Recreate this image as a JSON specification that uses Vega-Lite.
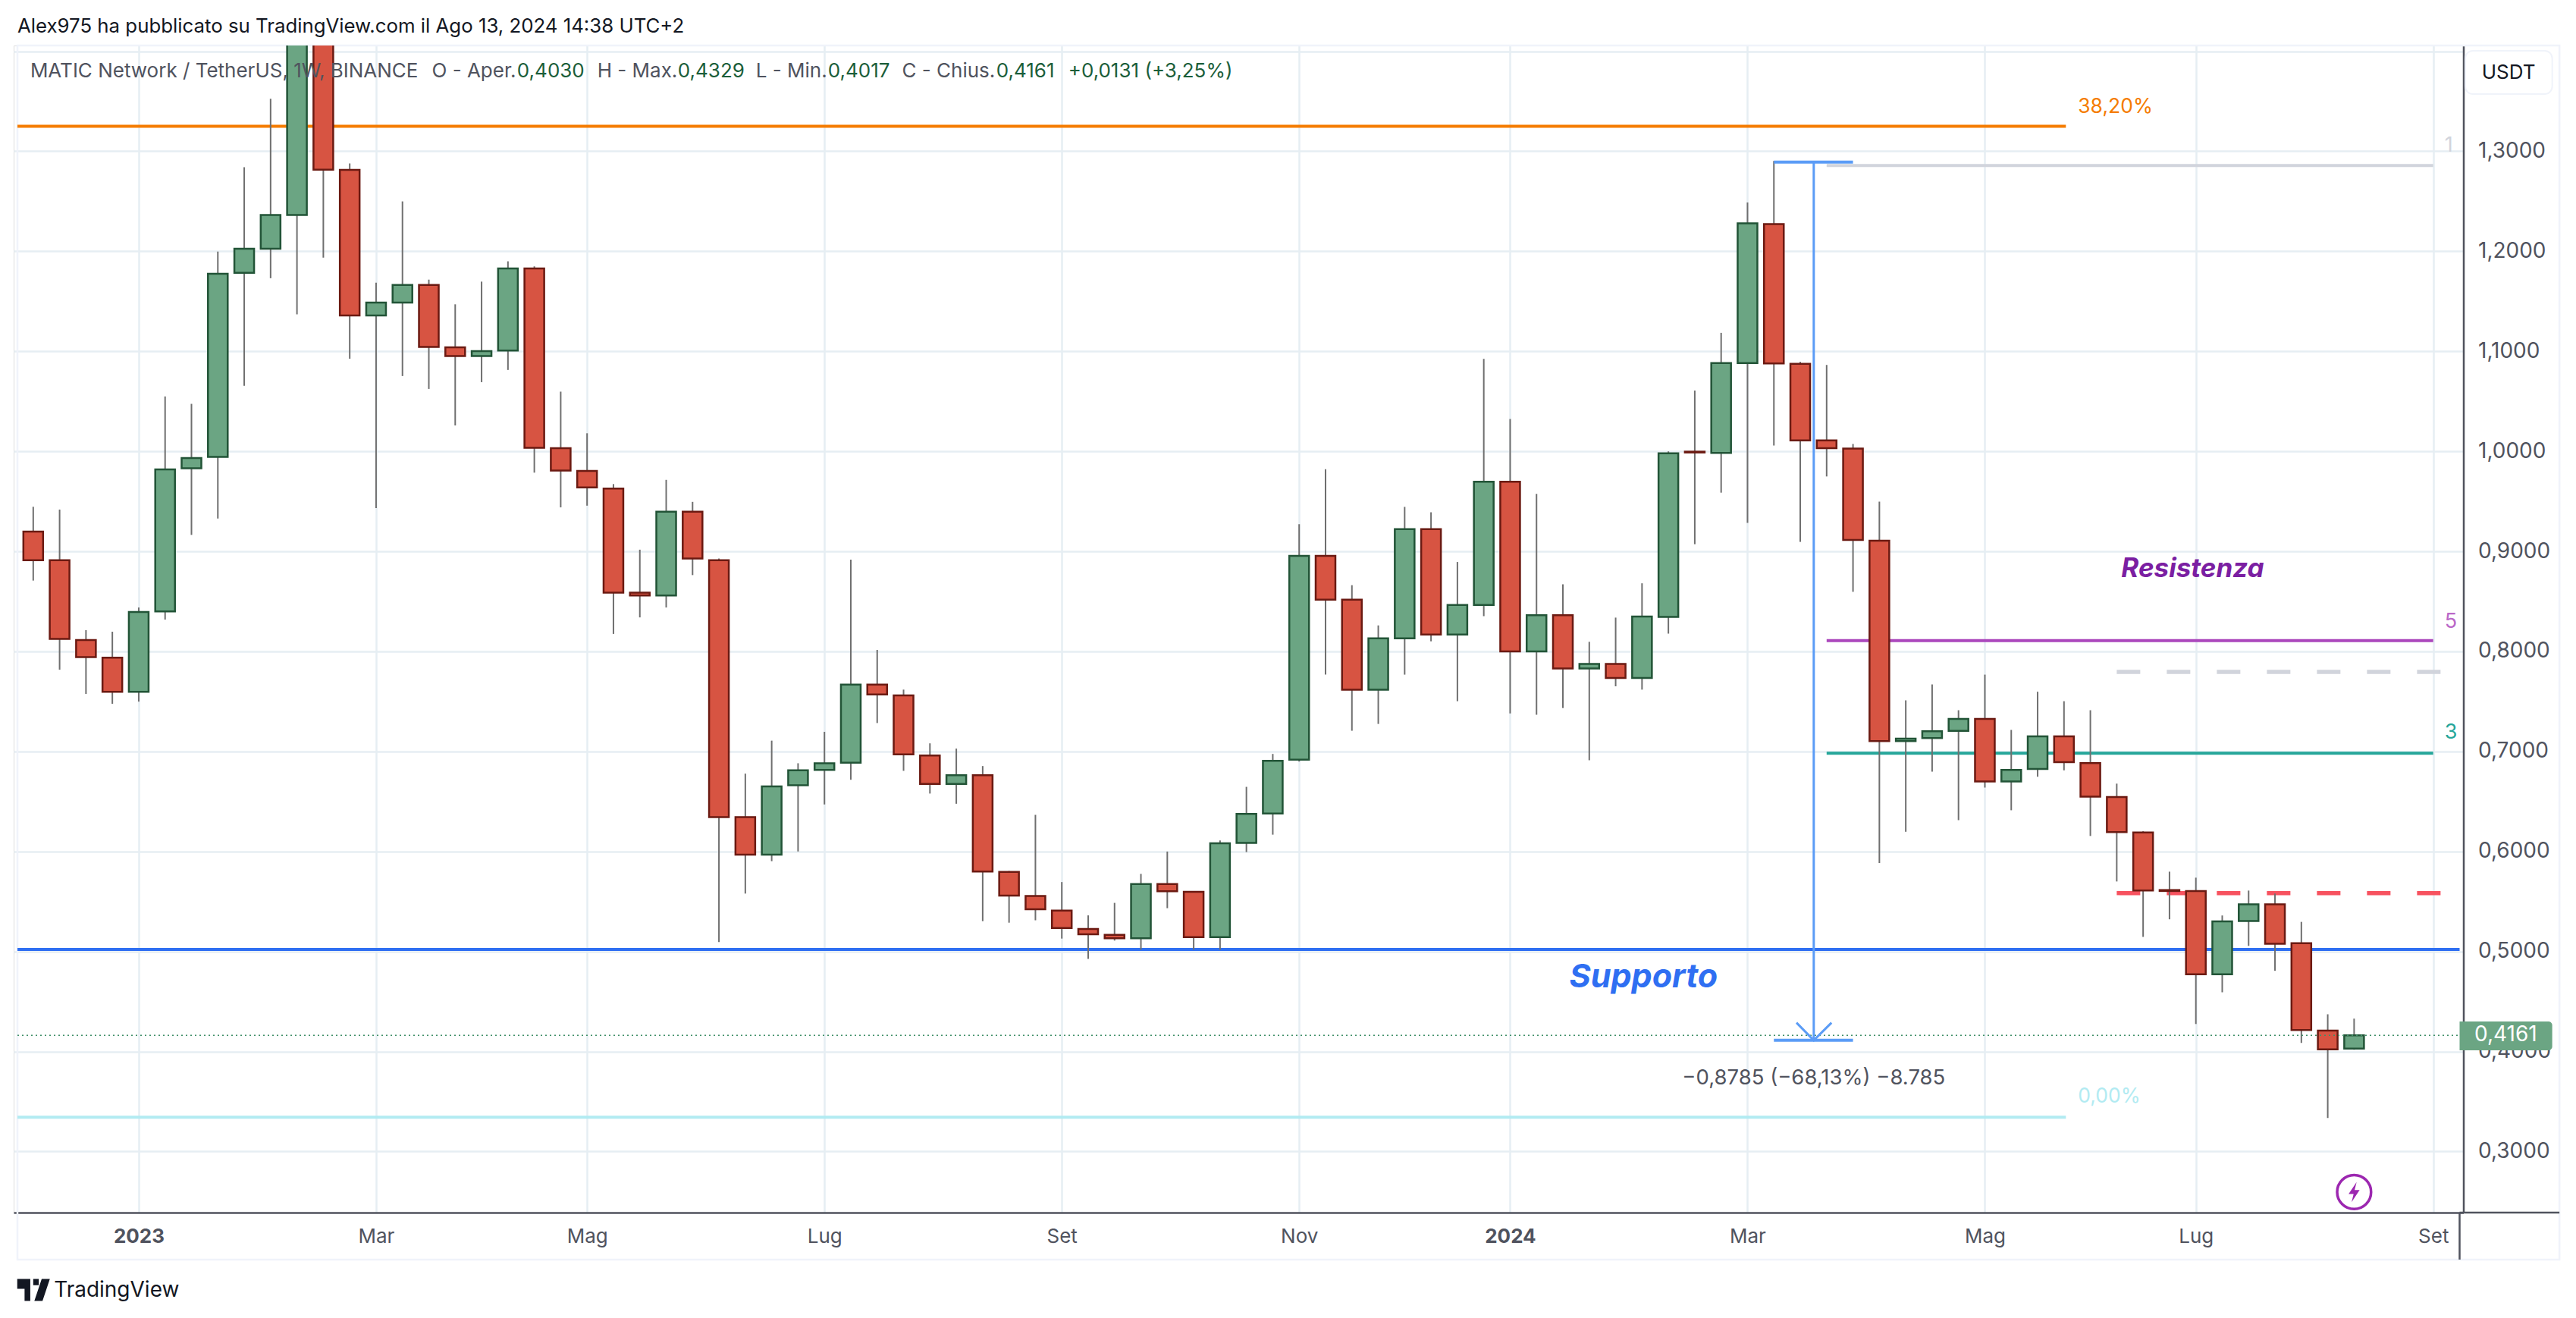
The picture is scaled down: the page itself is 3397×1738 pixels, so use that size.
{"$schema":"https://vega.github.io/schema/vega-lite/v6.json","width":3230.5,"height":1539,"autosize":"none","padding":{"left":18,"top":60,"right":148.5,"bottom":139},"background":"#ffffff",
"datasets":{"candles":[
{"d":"2022-12-05","o":0.9198,"c":0.8912,"h":0.9446,"l":0.8708,"dir":"down"},
{"d":"2022-12-12","o":0.8912,"c":0.8125,"h":0.9418,"l":0.7817,"dir":"down"},
{"d":"2022-12-19","o":0.8114,"c":0.7944,"h":0.8213,"l":0.7575,"dir":"down"},
{"d":"2022-12-26","o":0.7938,"c":0.7597,"h":0.8197,"l":0.7476,"dir":"down"},
{"d":"2023-01-02","o":0.7597,"c":0.8395,"h":0.8439,"l":0.7498,"dir":"up"},
{"d":"2023-01-09","o":0.84,"c":0.982,"h":1.055,"l":0.8318,"dir":"up"},
{"d":"2023-01-16","o":0.983,"c":0.9934,"h":1.0475,"l":0.9165,"dir":"up"},
{"d":"2023-01-23","o":0.9944,"c":1.1775,"h":1.1998,"l":0.9328,"dir":"up"},
{"d":"2023-01-30","o":1.1785,"c":1.2025,"h":1.2841,"l":1.0655,"dir":"up"},
{"d":"2023-02-06","o":1.2025,"c":1.2364,"h":1.3525,"l":1.1731,"dir":"up"},
{"d":"2023-02-13","o":1.2364,"c":1.47,"h":1.56,"l":1.1369,"dir":"up"},
{"d":"2023-02-20","o":1.47,"c":1.2817,"h":1.51,"l":1.1937,"dir":"down"},
{"d":"2023-02-27","o":1.2814,"c":1.1359,"h":1.2878,"l":1.0926,"dir":"down"},
{"d":"2023-03-06","o":1.1359,"c":1.1487,"h":1.1687,"l":0.9433,"dir":"up"},
{"d":"2023-03-13","o":1.1487,"c":1.1663,"h":1.2499,"l":1.0753,"dir":"up"},
{"d":"2023-03-20","o":1.1663,"c":1.1044,"h":1.1717,"l":1.0624,"dir":"down"},
{"d":"2023-03-27","o":1.1041,"c":1.0953,"h":1.147,"l":1.0259,"dir":"down"},
{"d":"2023-04-03","o":1.0953,"c":1.1003,"h":1.1697,"l":1.0692,"dir":"up"},
{"d":"2023-04-10","o":1.1007,"c":1.1829,"h":1.19,"l":1.0814,"dir":"up"},
{"d":"2023-04-17","o":1.1829,"c":1.0036,"h":1.185,"l":0.9788,"dir":"down"},
{"d":"2023-04-24","o":1.0032,"c":0.9809,"h":1.0597,"l":0.944,"dir":"down"},
{"d":"2023-05-01","o":0.9805,"c":0.964,"h":1.0181,"l":0.9457,"dir":"down"},
{"d":"2023-05-08","o":0.9629,"c":0.8587,"h":0.9673,"l":0.8175,"dir":"down"},
{"d":"2023-05-15","o":0.8587,"c":0.856,"h":0.9017,"l":0.834,"dir":"down"},
{"d":"2023-05-22","o":0.856,"c":0.9396,"h":0.9715,"l":0.8439,"dir":"up"},
{"d":"2023-05-29","o":0.9396,"c":0.8928,"h":0.9495,"l":0.8763,"dir":"down"},
{"d":"2023-06-05","o":0.8912,"c":0.6343,"h":0.8928,"l":0.5095,"dir":"down"},
{"d":"2023-06-12","o":0.6343,"c":0.5969,"h":0.6778,"l":0.5579,"dir":"down"},
{"d":"2023-06-19","o":0.5969,"c":0.6651,"h":0.7108,"l":0.5903,"dir":"up"},
{"d":"2023-06-26","o":0.6662,"c":0.6811,"h":0.6882,"l":0.6,"dir":"up"},
{"d":"2023-07-03","o":0.6816,"c":0.6882,"h":0.7196,"l":0.647,"dir":"up"},
{"d":"2023-07-10","o":0.6888,"c":0.7669,"h":0.8917,"l":0.6717,"dir":"up"},
{"d":"2023-07-17","o":0.7669,"c":0.757,"h":0.8015,"l":0.7284,"dir":"down"},
{"d":"2023-07-24","o":0.756,"c":0.697,"h":0.7618,"l":0.6806,"dir":"down"},
{"d":"2023-07-31","o":0.696,"c":0.6675,"h":0.7081,"l":0.6579,"dir":"down"},
{"d":"2023-08-07","o":0.6675,"c":0.6762,"h":0.7028,"l":0.6477,"dir":"up"},
{"d":"2023-08-14","o":0.6762,"c":0.58,"h":0.6854,"l":0.5303,"dir":"down"},
{"d":"2023-08-21","o":0.5796,"c":0.5559,"h":0.5805,"l":0.5288,"dir":"down"},
{"d":"2023-08-28","o":0.5554,"c":0.5423,"h":0.6366,"l":0.5312,"dir":"down"},
{"d":"2023-09-04","o":0.5409,"c":0.5235,"h":0.5694,"l":0.5129,"dir":"down"},
{"d":"2023-09-11","o":0.5225,"c":0.5172,"h":0.5361,"l":0.4926,"dir":"down"},
{"d":"2023-09-18","o":0.5167,"c":0.5133,"h":0.5486,"l":0.5109,"dir":"down"},
{"d":"2023-09-25","o":0.5133,"c":0.5675,"h":0.5776,"l":0.5017,"dir":"up"},
{"d":"2023-10-02","o":0.5675,"c":0.5602,"h":0.5999,"l":0.5433,"dir":"down"},
{"d":"2023-10-09","o":0.5597,"c":0.5143,"h":0.5597,"l":0.5017,"dir":"down"},
{"d":"2023-10-16","o":0.5143,"c":0.6081,"h":0.611,"l":0.5017,"dir":"up"},
{"d":"2023-10-23","o":0.6086,"c":0.6376,"h":0.6646,"l":0.5994,"dir":"up"},
{"d":"2023-10-30","o":0.638,"c":0.6907,"h":0.6975,"l":0.6168,"dir":"up"},
{"d":"2023-11-06","o":0.6917,"c":0.8956,"h":0.9271,"l":0.6898,"dir":"up"},
{"d":"2023-11-13","o":0.8956,"c":0.8517,"h":0.9822,"l":0.7768,"dir":"down"},
{"d":"2023-11-20","o":0.8517,"c":0.7618,"h":0.8662,"l":0.7207,"dir":"down"},
{"d":"2023-11-27","o":0.7618,"c":0.813,"h":0.826,"l":0.7275,"dir":"up"},
{"d":"2023-12-04","o":0.813,"c":0.9222,"h":0.9445,"l":0.7768,"dir":"up"},
{"d":"2023-12-11","o":0.9222,"c":0.8169,"h":0.9391,"l":0.8101,"dir":"down"},
{"d":"2023-12-18","o":0.8169,"c":0.8464,"h":0.8894,"l":0.7502,"dir":"up"},
{"d":"2023-12-25","o":0.8464,"c":0.9696,"h":1.0924,"l":0.8352,"dir":"up"},
{"d":"2024-01-01","o":0.9696,"c":0.7999,"h":1.0324,"l":0.7381,"dir":"down"},
{"d":"2024-01-08","o":0.7999,"c":0.8362,"h":0.9575,"l":0.7366,"dir":"up"},
{"d":"2024-01-15","o":0.8362,"c":0.783,"h":0.8671,"l":0.7434,"dir":"down"},
{"d":"2024-01-22","o":0.783,"c":0.7874,"h":0.8096,"l":0.6912,"dir":"up"},
{"d":"2024-01-29","o":0.7874,"c":0.7734,"h":0.8338,"l":0.7651,"dir":"down"},
{"d":"2024-02-05","o":0.7734,"c":0.8348,"h":0.8681,"l":0.7618,"dir":"up"},
{"d":"2024-02-12","o":0.8345,"c":0.9981,"h":1.0,"l":0.8178,"dir":"up"},
{"d":"2024-02-19","o":0.9997,"c":0.9989,"h":1.0608,"l":0.9072,"dir":"down"},
{"d":"2024-02-26","o":0.9985,"c":1.0883,"h":1.1185,"l":0.9587,"dir":"up"},
{"d":"2024-03-04","o":1.0883,"c":1.228,"h":1.2489,"l":0.9285,"dir":"up"},
{"d":"2024-03-11","o":1.2272,"c":1.0879,"h":1.2903,"l":1.0059,"dir":"down"},
{"d":"2024-03-18","o":1.0875,"c":1.0109,"h":1.0895,"l":0.9095,"dir":"down"},
{"d":"2024-03-25","o":1.0109,"c":1.0032,"h":1.0864,"l":0.9749,"dir":"down"},
{"d":"2024-04-01","o":1.0028,"c":0.9115,"h":1.0074,"l":0.8596,"dir":"down"},
{"d":"2024-04-08","o":0.9107,"c":0.7103,"h":0.9498,"l":0.5884,"dir":"down"},
{"d":"2024-04-15","o":0.7103,"c":0.7129,"h":0.7511,"l":0.6197,"dir":"up"},
{"d":"2024-04-22","o":0.7133,"c":0.7202,"h":0.767,"l":0.6798,"dir":"up"},
{"d":"2024-04-29","o":0.7206,"c":0.7326,"h":0.7412,"l":0.6313,"dir":"up"},
{"d":"2024-05-06","o":0.7326,"c":0.67,"h":0.7768,"l":0.6639,"dir":"down"},
{"d":"2024-05-13","o":0.67,"c":0.6815,"h":0.7215,"l":0.6412,"dir":"up"},
{"d":"2024-05-20","o":0.6824,"c":0.715,"h":0.7597,"l":0.6747,"dir":"up"},
{"d":"2024-05-27","o":0.715,"c":0.6893,"h":0.7502,"l":0.6811,"dir":"down"},
{"d":"2024-06-03","o":0.6884,"c":0.6549,"h":0.7412,"l":0.6155,"dir":"down"},
{"d":"2024-06-10","o":0.6545,"c":0.6193,"h":0.6678,"l":0.57,"dir":"down"},
{"d":"2024-06-17","o":0.6189,"c":0.561,"h":0.6202,"l":0.5146,"dir":"down"},
{"d":"2024-06-24","o":0.5614,"c":0.5605,"h":0.5798,"l":0.5322,"dir":"down"},
{"d":"2024-07-01","o":0.5605,"c":0.4773,"h":0.5738,"l":0.4275,"dir":"down"},
{"d":"2024-07-08","o":0.4773,"c":0.53,"h":0.536,"l":0.4592,"dir":"up"},
{"d":"2024-07-15","o":0.5305,"c":0.5472,"h":0.5609,"l":0.5056,"dir":"up"},
{"d":"2024-07-22","o":0.5472,"c":0.5077,"h":0.5579,"l":0.4807,"dir":"down"},
{"d":"2024-07-29","o":0.5082,"c":0.4215,"h":0.5296,"l":0.4086,"dir":"down"},
{"d":"2024-08-05","o":0.421,"c":0.4021,"h":0.4373,"l":0.3335,"dir":"down"},
{"d":"2024-08-12","o":0.403,"c":0.4161,"h":0.4329,"l":0.4017,"dir":"up"}
],
"headerLabels":[
{"d":"2022-12-04T05:00:00Z","p":1.38,"t":"MATIC Network / TetherUS, 1W, BINANCE"},
{"d":"2023-03-20T19:00:00Z","p":1.38,"t":"O - Aper."},
{"d":"2023-05-03T17:00:00Z","p":1.38,"t":"H - Max."},
{"d":"2023-06-14T19:00:00Z","p":1.38,"t":"L - Min."},
{"d":"2023-07-23T14:00:00Z","p":1.38,"t":"C - Chius."}],
"headerValues":[
{"d":"2023-04-12T10:00:00Z","p":1.38,"t":"0,4030"},
{"d":"2023-05-25T02:00:00Z","p":1.38,"t":"0,4329"},
{"d":"2023-07-03T22:00:00Z","p":1.38,"t":"0,4017"},
{"d":"2023-08-17T14:00:00Z","p":1.38,"t":"0,4161"},
{"d":"2023-09-05T17:00:00Z","p":1.38,"t":"+0,0131 (+3,25%)"}],
"chrome":[{"a":"2022-11-30T19:26:00Z","b":"2024-10-05T12:00:00Z","top":1.4058,"bottom":0.192}]
},
"layer":[
{"data":{"name":"chrome"},"mark":{"type":"rect","fill":"transparent","stroke":"#f0f3fa","strokeWidth":2.5,"clip":false},
"encoding":{"x":{"field":"a","type":"temporal","scale":{"type":"utc","domain":[{"year":2022,"month":11,"date":30,"hours":19,"minutes":26,"utc":true},{"year":2024,"month":9,"date":9,"utc":true}]},
"axis":{"orient":"bottom","title":null,"values":[{"year":2023,"month":1,"date":2,"utc":true},{"year":2023,"month":3,"date":6,"utc":true},{"year":2023,"month":5,"date":1,"utc":true},{"year":2023,"month":7,"date":3,"utc":true},{"year":2023,"month":9,"date":4,"utc":true},{"year":2023,"month":11,"date":6,"utc":true},{"year":2024,"month":1,"date":1,"utc":true},{"year":2024,"month":3,"date":4,"utc":true},{"year":2024,"month":5,"date":6,"utc":true},{"year":2024,"month":7,"date":1,"utc":true},{"year":2024,"month":9,"date":2,"utc":true}],
"labelExpr":"utcmonth(datum.value)==0 ? ''+utcyear(datum.value) : ['','','Mar','','Mag','','Lug','','Set','','Nov',''][utcmonth(datum.value)]",
"labelFont":"Inter","labelFontSize":26,"labelColor":"#50535e","labelFontWeight":{"condition":{"test":"utcmonth(datum.value)==0","value":700},"value":400},"labelPadding":18,"labelOverlap":false,"labelFlush":false,"ticks":false,"domain":true,"domainColor":"#50535e","domainWidth":2.5,"grid":true,"gridColor":"#e6eef3","gridWidth":2.5}},
"x2":{"field":"b"},
"y":{"field":"top","type":"quantitative","scale":{"domain":[0.23896,1.40576],"zero":false,"nice":false},
"axis":{"orient":"right","title":null,"values":[0.3,0.4,0.5,0.6,0.7,0.8,0.9,1.0,1.1,1.2,1.3,1.4],
"labelExpr":"datum.value>1.35 ? '' : replace(format(datum.value,'.4f'),'.',',')",
"labelFont":"Inter","labelFontSize":28,"labelColor":"#50535e","labelPadding":19,"labelOverlap":false,"labelFlush":false,"ticks":false,"domain":true,"domainColor":"#50535e","domainWidth":2.5,"grid":true,"gridColor":"#e6eef3","gridWidth":2.5}},
"y2":{"field":"bottom"}}},
{"data":{"values":[{"x":"2024-09-09","a":0.23896,"b":0.192}]},"mark":{"type":"rule","color":"#50535e","strokeWidth":2.5,"clip":false},"encoding":{"x":{"field":"x","type":"temporal"},"y":{"field":"a","type":"quantitative"},"y2":{"field":"b"}}},
{"data":{"values":[{"a":"2024-09-09","b":"2024-10-05T12:00:00Z","p":0.23896}]},"mark":{"type":"rule","color":"#50535e","strokeWidth":2.5,"clip":false},"encoding":{"x":{"field":"a","type":"temporal"},"x2":{"field":"b"},"y":{"field":"p","type":"quantitative"}}},
{"data":{"values":[{"a":"2022-11-30T19:26:00Z","b":"2024-05-27T12:00:00Z","p":1.325}]},"mark":{"type":"rule","color":"#f57c00","strokeWidth":4},"encoding":{"x":{"field":"a","type":"temporal"},"x2":{"field":"b"},"y":{"field":"p","type":"quantitative"}}},
{"data":{"values":[{"a":"2022-11-30T19:26:00Z","b":"2024-05-27T12:00:00Z","p":0.3343}]},"mark":{"type":"rule","color":"#b2ebf2","strokeWidth":4},"encoding":{"x":{"field":"a","type":"temporal"},"x2":{"field":"b"},"y":{"field":"p","type":"quantitative"}}},
{"data":{"values":[{"a":"2022-11-30T19:26:00Z","b":"2024-09-09","p":0.5021}]},"mark":{"type":"rule","color":"#2f6ff2","strokeWidth":4},"encoding":{"x":{"field":"a","type":"temporal"},"x2":{"field":"b"},"y":{"field":"p","type":"quantitative"}}},
{"data":{"values":[{"a":"2024-03-25","b":"2024-09-02","p":1.2857}]},"mark":{"type":"rule","color":"#d1d4dc","strokeWidth":4},"encoding":{"x":{"field":"a","type":"temporal"},"x2":{"field":"b"},"y":{"field":"p","type":"quantitative"}}},
{"data":{"values":[{"a":"2024-03-25","b":"2024-09-02","p":0.8108}]},"mark":{"type":"rule","color":"#ab47bc","strokeWidth":4},"encoding":{"x":{"field":"a","type":"temporal"},"x2":{"field":"b"},"y":{"field":"p","type":"quantitative"}}},
{"data":{"values":[{"a":"2024-03-25","b":"2024-09-02","p":0.6983}]},"mark":{"type":"rule","color":"#26a69a","strokeWidth":4},"encoding":{"x":{"field":"a","type":"temporal"},"x2":{"field":"b"},"y":{"field":"p","type":"quantitative"}}},
{"data":{"values":[{"a":"2024-06-10","b":"2024-09-09","p":0.7795}]},"mark":{"type":"rule","color":"#d1d4dc","strokeWidth":5.5,"strokeDash":[31,35]},"encoding":{"x":{"field":"a","type":"temporal"},"x2":{"field":"b"},"y":{"field":"p","type":"quantitative"}}},
{"data":{"values":[{"a":"2024-06-10","b":"2024-09-09","p":0.5584}]},"mark":{"type":"rule","color":"#f7525f","strokeWidth":5.5,"strokeDash":[31,35]},"encoding":{"x":{"field":"a","type":"temporal"},"x2":{"field":"b"},"y":{"field":"p","type":"quantitative"}}},
{"data":{"name":"candles"},"mark":{"type":"rule","color":"#6f6f6f","strokeWidth":2,"clip":true},"encoding":{"x":{"field":"d","type":"temporal"},"y":{"field":"l","type":"quantitative"},"y2":{"field":"h"}}},
{"data":{"name":"candles"},"mark":{"type":"bar","size":26,"strokeWidth":2.5,"clip":true},"encoding":{"x":{"field":"d","type":"temporal"},"y":{"field":"o","type":"quantitative"},"y2":{"field":"c"},
"fill":{"field":"dir","type":"nominal","legend":null,"scale":{"domain":["up","down"],"range":["#6ba583","#d75442"]}},
"stroke":{"field":"dir","type":"nominal","legend":null,"scale":{"domain":["up","down"],"range":["#225437","#6b1a12"]}}}},
{"data":{"values":[{"a":"2022-11-30T19:26:00Z","b":"2024-09-09","p":0.4161}]},"mark":{"type":"rule","color":"#3f8f68","strokeWidth":1.5,"strokeDash":[2,4]},"encoding":{"x":{"field":"a","type":"temporal"},"x2":{"field":"b"},"y":{"field":"p","type":"quantitative"}}},
{"data":{"values":[{"d":"2024-03-21T14:00:00Z","a":1.2892,"b":0.4112}]},"mark":{"type":"rule","color":"#5b9cf6","strokeWidth":3},"encoding":{"x":{"field":"d","type":"temporal"},"y":{"field":"a","type":"quantitative"},"y2":{"field":"b"}}},
{"data":{"values":[{"a":"2024-03-11","b":"2024-04-01","p":1.2892},{"a":"2024-03-11","b":"2024-04-01","p":0.4112}]},"mark":{"type":"rule","color":"#5b9cf6","strokeWidth":4},"encoding":{"x":{"field":"a","type":"temporal"},"x2":{"field":"b"},"y":{"field":"p","type":"quantitative"}}},
{"data":{"values":[{"d":"2024-03-17","p":0.4288},{"d":"2024-03-21T14:00:00Z","p":0.4112},{"d":"2024-03-26T07:00:00Z","p":0.4288}]},"mark":{"type":"line","color":"#5b9cf6","strokeWidth":3},"encoding":{"x":{"field":"d","type":"temporal"},"y":{"field":"p","type":"quantitative"}}},
{"data":{"values":[{"a":"2024-09-09","b":"2024-10-03T14:00:00Z","top":0.43,"bottom":0.4012}]},"mark":{"type":"rect","color":"#6ba583","cornerRadiusTopRight":5,"cornerRadiusBottomRight":5,"clip":false},"encoding":{"x":{"field":"a","type":"temporal"},"x2":{"field":"b"},"y":{"field":"top","type":"quantitative"},"y2":{"field":"bottom"}}},
{"data":{"values":[{"d":"2024-09-12T22:00:00Z","p":0.4161,"t":"0,4161"}]},"mark":{"type":"text","align":"left","baseline":"middle","font":"Inter","fontSize":28,"color":"#ffffff","clip":false},"encoding":{"x":{"field":"d","type":"temporal"},"y":{"field":"p","type":"quantitative"},"text":{"field":"t"}}},
{"data":{"values":[{"a":"2024-09-10T12:00:00Z","b":"2024-10-03T14:00:00Z","top":1.4005,"bottom":1.3572}]},"mark":{"type":"rect","fill":"#ffffff","stroke":"#f0f3fa","strokeWidth":2,"cornerRadius":10,"clip":false},"encoding":{"x":{"field":"a","type":"temporal"},"x2":{"field":"b"},"y":{"field":"top","type":"quantitative"},"y2":{"field":"bottom"}}},
{"data":{"values":[{"d":"2024-09-22T00:00:00Z","p":1.3785,"t":"USDT"}]},"mark":{"type":"text","align":"center","baseline":"middle","font":"Inter","fontSize":26,"fontWeight":400,"color":"#131722","clip":false},"encoding":{"x":{"field":"d","type":"temporal"},"y":{"field":"p","type":"quantitative"},"text":{"field":"t"}}},
{"data":{"name":"headerLabels"},"mark":{"type":"text","align":"left","baseline":"middle","font":"Inter","fontSize":26,"color":"#50535e"},"encoding":{"x":{"field":"d","type":"temporal"},"y":{"field":"p","type":"quantitative"},"text":{"field":"t"}}},
{"data":{"name":"headerValues"},"mark":{"type":"text","align":"left","baseline":"middle","font":"Inter","fontSize":26,"color":"#1b5e3a"},"encoding":{"x":{"field":"d","type":"temporal"},"y":{"field":"p","type":"quantitative"},"text":{"field":"t"}}},
{"data":{"values":[{"d":"2022-11-30T19:26:00Z","p":1.4247,"t":"Alex975 ha pubblicato su TradingView.com il Ago 13, 2024 14:38 UTC+2"}]},"mark":{"type":"text","align":"left","baseline":"middle","font":"Inter","fontSize":25.8,"color":"#131722","clip":false},"encoding":{"x":{"field":"d","type":"temporal"},"y":{"field":"p","type":"quantitative"},"text":{"field":"t"}}},
{"data":{"values":[{"d":"2022-12-10T12:00:00Z","p":0.1612,"t":"TradingView"}]},"mark":{"type":"text","align":"left","baseline":"middle","font":"Inter","fontSize":28,"color":"#131722","clip":false},"encoding":{"x":{"field":"d","type":"temporal"},"y":{"field":"p","type":"quantitative"},"text":{"field":"t"}}},
{"data":{"values":[{"d":"2022-12-05T02:00:00Z","p":0.1612}]},"mark":{"type":"point","shape":"M-1,-0.7 L-0.2,-0.7 L-0.2,0.65 L-0.55,0.65 L-0.55,-0.1 L-1,-0.1 Z M-0.02,-0.7 L0.32,-0.7 L0.32,-0.32 L-0.02,-0.32 Z M0.5,-0.7 L1,-0.7 L0.55,0.65 L0.05,0.65 Z","filled":true,"opacity":1,"color":"#131722","size":1850,"clip":false},"encoding":{"x":{"field":"d","type":"temporal"},"y":{"field":"p","type":"quantitative"}}},
{"data":{"values":[{"d":"2024-05-30T17:00:00Z","p":1.3444,"t":"38,20%"}]},"mark":{"type":"text","align":"left","baseline":"middle","font":"Inter","fontSize":26.5,"color":"#f57c00"},"encoding":{"x":{"field":"d","type":"temporal"},"y":{"field":"p","type":"quantitative"},"text":{"field":"t"}}},
{"data":{"values":[{"d":"2024-05-30T17:00:00Z","p":0.355,"t":"0,00%"}]},"mark":{"type":"text","align":"left","baseline":"middle","font":"Inter","fontSize":26.5,"color":"#b2ebf2"},"encoding":{"x":{"field":"d","type":"temporal"},"y":{"field":"p","type":"quantitative"},"text":{"field":"t"}}},
{"data":{"values":[{"d":"2024-01-16T17:00:00Z","p":0.474,"t":"Supporto"}]},"mark":{"type":"text","align":"left","baseline":"middle","font":"Inter","fontSize":43,"fontWeight":700,"fontStyle":"italic","color":"#2f6ff2"},"encoding":{"x":{"field":"d","type":"temporal"},"y":{"field":"p","type":"quantitative"},"text":{"field":"t"}}},
{"data":{"values":[{"d":"2024-06-11T05:00:00Z","p":0.8829,"t":"Resistenza"}]},"mark":{"type":"text","align":"left","baseline":"middle","font":"Inter","fontSize":35,"fontWeight":700,"fontStyle":"italic","color":"#7b1fa2"},"encoding":{"x":{"field":"d","type":"temporal"},"y":{"field":"p","type":"quantitative"},"text":{"field":"t"}}},
{"data":{"values":[{"d":"2024-03-21T14:00:00Z","p":0.3729,"t":"−0,8785 (−68,13%) −8.785"}]},"mark":{"type":"text","align":"center","baseline":"middle","font":"Inter","fontSize":27.5,"color":"#50535e"},"encoding":{"x":{"field":"d","type":"temporal"},"y":{"field":"p","type":"quantitative"},"text":{"field":"t"}}},
{"data":{"values":[{"d":"2024-09-05","p":1.3057,"t":"1"}]},"mark":{"type":"text","align":"left","baseline":"middle","font":"Inter","fontSize":27,"color":"#d1d4dc"},"encoding":{"x":{"field":"d","type":"temporal"},"y":{"field":"p","type":"quantitative"},"text":{"field":"t"}}},
{"data":{"values":[{"d":"2024-09-05","p":0.8298,"t":"5"}]},"mark":{"type":"text","align":"left","baseline":"middle","font":"Inter","fontSize":27,"color":"#ba68c8"},"encoding":{"x":{"field":"d","type":"temporal"},"y":{"field":"p","type":"quantitative"},"text":{"field":"t"}}},
{"data":{"values":[{"d":"2024-09-05","p":0.7188,"t":"3"}]},"mark":{"type":"text","align":"left","baseline":"middle","font":"Inter","fontSize":27,"color":"#26a69a"},"encoding":{"x":{"field":"d","type":"temporal"},"y":{"field":"p","type":"quantitative"},"text":{"field":"t"}}},
{"data":{"values":[{"d":"2024-08-12","p":0.2595}]},"mark":{"type":"point","shape":"circle","filled":false,"stroke":"#9c27b0","strokeWidth":3.5,"opacity":1,"size":2000},"encoding":{"x":{"field":"d","type":"temporal"},"y":{"field":"p","type":"quantitative"}}},
{"data":{"values":[{"d":"2024-08-12","p":0.2595}]},"mark":{"type":"point","shape":"M0.25,-1 L-0.55,0.2 L-0.05,0.2 L-0.25,1 L0.55,-0.2 L0.05,-0.2 Z","filled":true,"opacity":1,"color":"#9c27b0","size":700},"encoding":{"x":{"field":"d","type":"temporal"},"y":{"field":"p","type":"quantitative"}}}
]}
